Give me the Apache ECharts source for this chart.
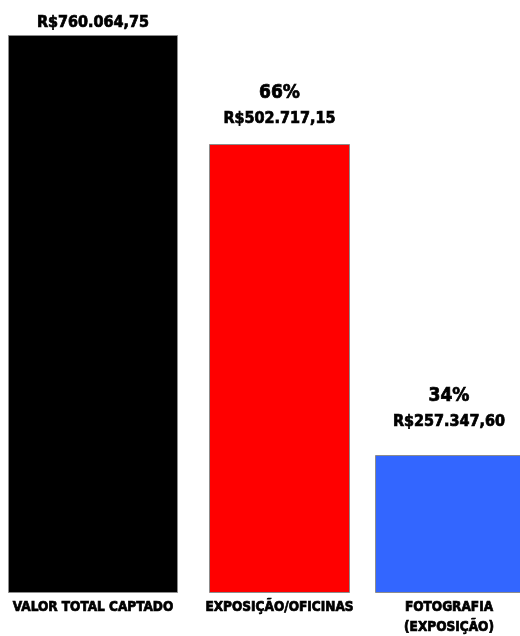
<!DOCTYPE html>
<html>
<head>
<meta charset="utf-8">
<script src="https://cdn.jsdelivr.net/npm/echarts@6/dist/echarts.min.js"></script>
<style>
  html, body { margin: 0; padding: 0; background: #ffffff; }
  #chart { width: 520px; height: 636px; }
</style>
</head>
<body>
<div id="chart"></div>
<script>
// Captação de recursos por destino
const categories = ['VALOR TOTAL CAPTADO', 'EXPOSIÇÃO/OFICINAS', 'FOTOGRAFIA\n(EXPOSIÇÃO)'];
const values = [760064.75, 502717.15, 257347.60];
const shares = ['', '66%', '34%'];
const colors = ['#000000', '#ff0000', '#3366ff'];

const FONT = '"DejaVu Sans Condensed", "DejaVu Sans", sans-serif';
// heavy black lettering
const INK = { color: '#000', fontFamily: FONT, fontWeight: 'bold', textBorderColor: '#000', textBorderWidth: 0.7 };

// each bar sits in its own panel (left edge, width, top edge)
const panels = [
  { left: 8,   width: 170, top: 35,  dist: 0 },
  { left: 209, width: 141, top: 144, dist: 13 },
  { left: 375, width: 148, top: 455, dist: 21 }
];

function brl(v) {
  const parts = v.toFixed(2).split('.');
  const int = parts[0].replace(/\B(?=(\d{3})+(?!\d))/g, '.');
  return 'R$' + int + ',' + parts[1];
}

const grid = [], xAxis = [], yAxis = [], series = [];
panels.forEach((p, i) => {
  grid.push({
    left: p.left, width: p.width, top: p.top, bottom: 43,
    containLabel: false, outerBoundsMode: 'none'
  });
  xAxis.push({
    type: 'category', gridIndex: i, data: [categories[i]],
    axisLine: { show: false }, axisTick: { show: false },
    axisLabel: Object.assign({ interval: 0, margin: 4, fontSize: 13.5, lineHeight: 20 }, INK)
  });
  yAxis.push({
    type: 'value', gridIndex: i, min: 0, max: 'dataMax', show: false,
    splitLine: { show: false }
  });
  series.push({
    type: 'bar', xAxisIndex: i, yAxisIndex: i,
    data: [values[i]], barWidth: '100%',
    itemStyle: { color: colors[i], borderColor: '#8c8c8c', borderWidth: 1 },
    label: {
      show: true, position: 'top', distance: p.dist,
      formatter: () => (shares[i] ? '{p|' + shares[i] + '}\n' : '') + '{v|' + brl(values[i]) + '}',
      rich: {
        p: Object.assign({ fontSize: 19, lineHeight: 25, align: 'center' }, INK),
        v: Object.assign({ fontSize: 16, lineHeight: 25, align: 'center' }, INK)
      }
    }
  });
});

const chart = echarts.init(document.getElementById('chart'), null, { renderer: 'canvas' });
chart.setOption({
  backgroundColor: '#ffffff',
  animation: false,
  grid, xAxis, yAxis, series
});
</script>
</body>
</html>
